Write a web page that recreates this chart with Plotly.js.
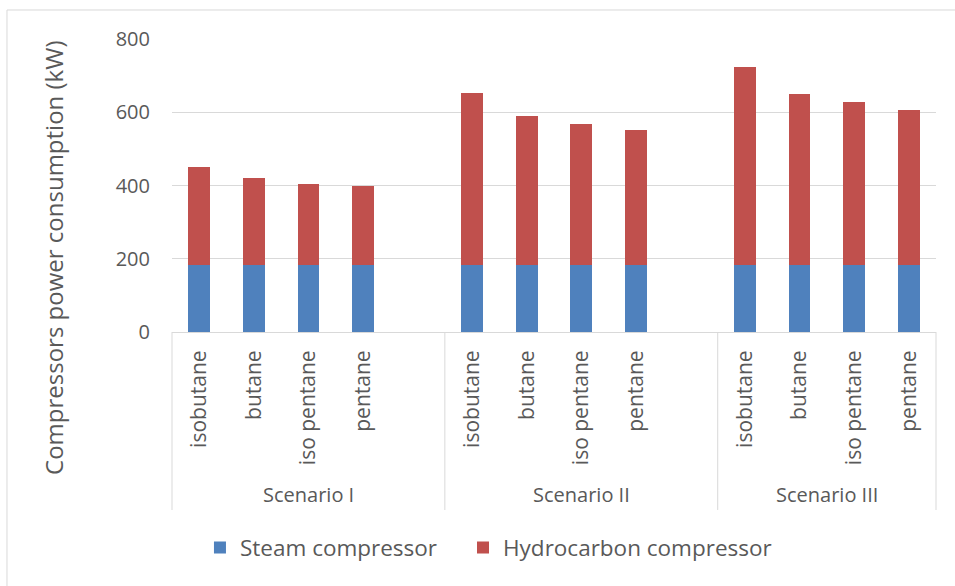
<!DOCTYPE html>
<html>
<head>
<meta charset="utf-8">
<script src="https://cdn.plot.ly/plotly-3.0.1.min.js"></script>
<style>html,body{margin:0;padding:0;background:#fff;}#chart{width:955px;height:586px;}</style>
</head>
<body>
<div id="chart"></div>
<script>
// ---- data ----
const scenarios = ["Scenario I", "Scenario II", "Scenario III"];
const fluids = ["isobutane", "butane", "iso pentane", "pentane"];
const steamScenarioI = [182, 182, 182, 182];
const steamScenarioII = [182, 182, 182, 182];
const steamScenarioIII = [182, 182, 182, 182];
const hydroScenarioI = [269, 238, 223, 217];
const hydroScenarioII = [470, 408, 386, 370];
const hydroScenarioIII = [542, 468, 447, 425];
const seriesNames = ["Steam compressor", "Hydrocarbon compressor"];
const yTitle = "Compressors power consumption (kW)";
const yTicks = [0, 200, 400, 600, 800];

// ---- build positions from the categories ----
const steamByScenario = [steamScenarioI, steamScenarioII, steamScenarioIII];
const hydroByScenario = [hydroScenarioI, hydroScenarioII, hydroScenarioIII];
const slot = fluids.length + 1; // one empty slot between scenario groups
const xs = [], steam = [], hydro = [], tickText = [];
const groupBounds = [];
scenarios.forEach((s, g) => {
  fluids.forEach((f, i) => {
    xs.push(g * slot + i);
    steam.push(steamByScenario[g][i]);
    hydro.push(hydroByScenario[g][i]);
    tickText.push(f);
  });
  const start = g * slot - 0.5;
  const end = (g === scenarios.length - 1) ? g * slot + fluids.length - 0.5 : (g + 1) * slot - 0.5;
  groupBounds.push([start, end]);
});
const xMin = -0.5;
const xMax = groupBounds[groupBounds.length - 1][1];
const toPaper = v => (v - xMin) / (xMax - xMin);

const grey = '#595959';
const lineGrey = '#d9d9d9';
const font = 'Open Sans, Noto Sans, sans-serif';

const traces = [
  {type: 'bar', name: seriesNames[0], x: xs, y: steam, marker: {color: '#4F81BD'}, hoverinfo: 'y+name', legend: 'legend'},
  {type: 'bar', name: seriesNames[1], x: xs, y: hydro, marker: {color: '#C0504D'}, hoverinfo: 'y+name', legend: 'legend2'}
];

const shapes = [];
const dividerPos = [groupBounds[0][0]].concat(groupBounds.map(b => b[1]));
dividerPos.forEach(p => {
  shapes.push({type: 'line', xref: 'paper', yref: 'paper', x0: toPaper(p), x1: toPaper(p), y0: 0, y1: -0.6075,
    line: {color: lineGrey, width: 1}});
});
// chart frame
shapes.push({type: 'rect', xref: 'paper', yref: 'paper', x0: -0.216, x1: 1.04, y0: -0.93, y1: 1.099,
  line: {color: lineGrey, width: 1}, fillcolor: 'rgba(0,0,0,0)', layer: 'below'});

const annotations = scenarios.map((s, g) => ({
  text: s, xref: 'paper', yref: 'paper',
  x: toPaper((groupBounds[g][0] + groupBounds[g][1]) / 2), y: -0.553,
  xanchor: 'center', yanchor: 'middle', showarrow: false,
  font: {family: font, size: 20, color: grey}
}));
// value-axis title (placed like the reference, centred lower than the plot middle)
annotations.push({
  text: yTitle, xref: 'paper', yref: 'paper', x: -0.1545, y: 0.2526,
  xanchor: 'center', yanchor: 'middle', textangle: -90, showarrow: false,
  font: {family: font, size: 24, color: grey}
});

const legendFont = {family: font, size: 22.5, color: grey};
const layout = {
  width: 955, height: 586,
  margin: {l: 172, r: 19, t: 39, b: 254},
  paper_bgcolor: '#fff', plot_bgcolor: '#fff',
  barmode: 'stack', bargap: 0.6,
  font: {family: font, color: grey},
  showlegend: true,
  legend: {orientation: 'h', x: 0.0366, xanchor: 'left', y: -0.737, yanchor: 'middle', font: legendFont},
  legend2: {orientation: 'h', x: 0.3809, xanchor: 'left', y: -0.737, yanchor: 'middle', font: legendFont},
  xaxis: {type: 'linear', range: [xMin, xMax], tickvals: xs, ticktext: tickText, tickangle: -90,
    showgrid: false, zeroline: false, showline: true, linecolor: lineGrey, linewidth: 1,
    ticks: '', ticklabelstandoff: 9, tickfont: {family: font, size: 21, color: grey}, fixedrange: true},
  yaxis: {range: [0, 800], tickvals: yTicks, showgrid: true, gridcolor: lineGrey, gridwidth: 1,
    zeroline: false, showline: false, ticks: '', ticklabelstandoff: 21,
    tickfont: {family: font, size: 20, color: grey}, fixedrange: true},
  shapes: shapes,
  annotations: annotations
};

Plotly.newPlot('chart', traces, layout, {displayModeBar: false, staticPlot: true});
</script>
</body>
</html>
